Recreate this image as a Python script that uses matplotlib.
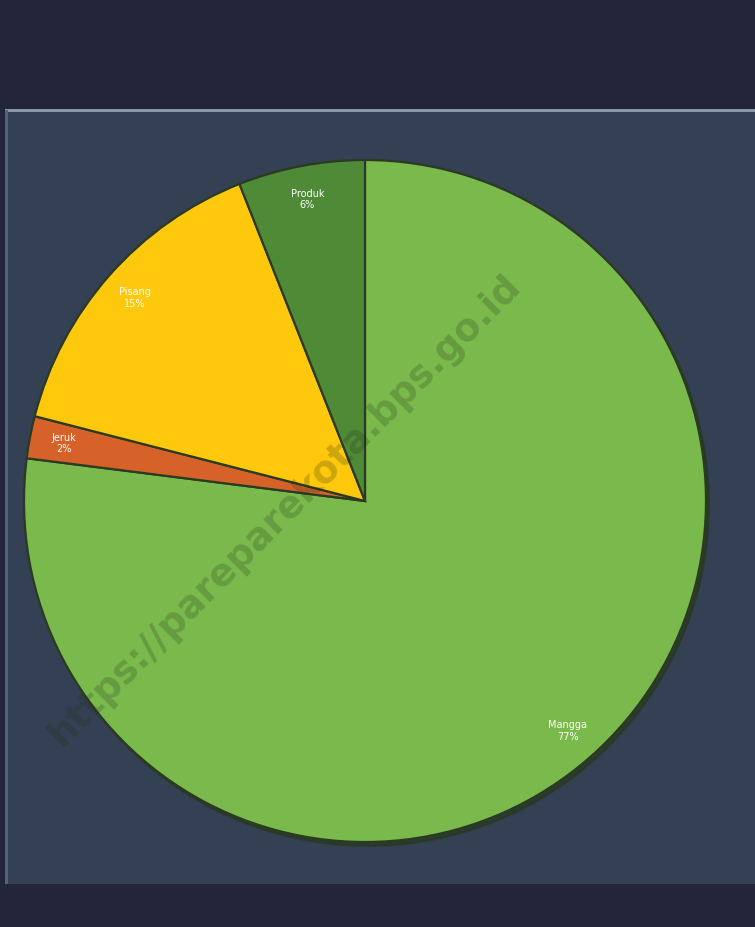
import matplotlib.pyplot as plt
from matplotlib.patches import Rectangle

# data
labels = ['Mangga', 'Jeruk', 'Pisang', 'Produk']
shares = [77, 2, 15, 6]
colors = ['#7aba4c', '#d6622a', '#fec80c', '#4f8a36']

W, H = 755, 927
fig = plt.figure(figsize=(W / 100, H / 100), dpi=100)
fig.patch.set_facecolor('#23253a')

# inner panel
fig.patches.append(Rectangle((5 / W, (H - 884) / H), (W - 5) / W, (884 - 110) / H,
                             transform=fig.transFigure, facecolor='#344053',
                             edgecolor='none', zorder=0))
fig.patches.append(Rectangle((5 / W, (H - 112) / H), (W - 5) / W, 3 / H,
                             transform=fig.transFigure, facecolor='#8a96aa',
                             edgecolor='none', zorder=1))
fig.patches.append(Rectangle((5 / W, (H - 884) / H), 3 / W, (884 - 110) / H,
                             transform=fig.transFigure, facecolor='#56627a',
                             edgecolor='none', zorder=1))

cx, cy, r = 365, 501, 341
ax = fig.add_axes([(cx - r) / W, (H - cy - r) / H, 2 * r / W, 2 * r / H])
ax.set_zorder(2)
ax.set_facecolor('none')

txt = [f'{l}\n{s}%' for l, s in zip(labels, shares)]
wedges, texts = ax.pie(shares, labels=txt, colors=colors, startangle=90,
                       counterclock=False, labeldistance=0.9,
                       shadow=dict(ox=0.006, oy=-0.008, shade=0.7, alpha=0.6),
                       wedgeprops=dict(edgecolor='#2b3a22', linewidth=1.6),
                       textprops=dict(color='white', fontsize=7, ha='center',
                                      va='center', linespacing=1.2))
ax.set_xlim(-1.0, 1.0)
ax.set_ylim(-1.0, 1.0)
ax.set_aspect('equal')

# watermark
wm = fig.text(285 / W, 1 - 510 / H, 'https://pareparekota.bps.go.id', rotation=45,
              fontsize=27, color='#1e2e18', alpha=0.22, ha='center', va='center',
              fontweight='bold')
wm.set_zorder(5)

fig.savefig('out.png', dpi=100, facecolor=fig.get_facecolor())
